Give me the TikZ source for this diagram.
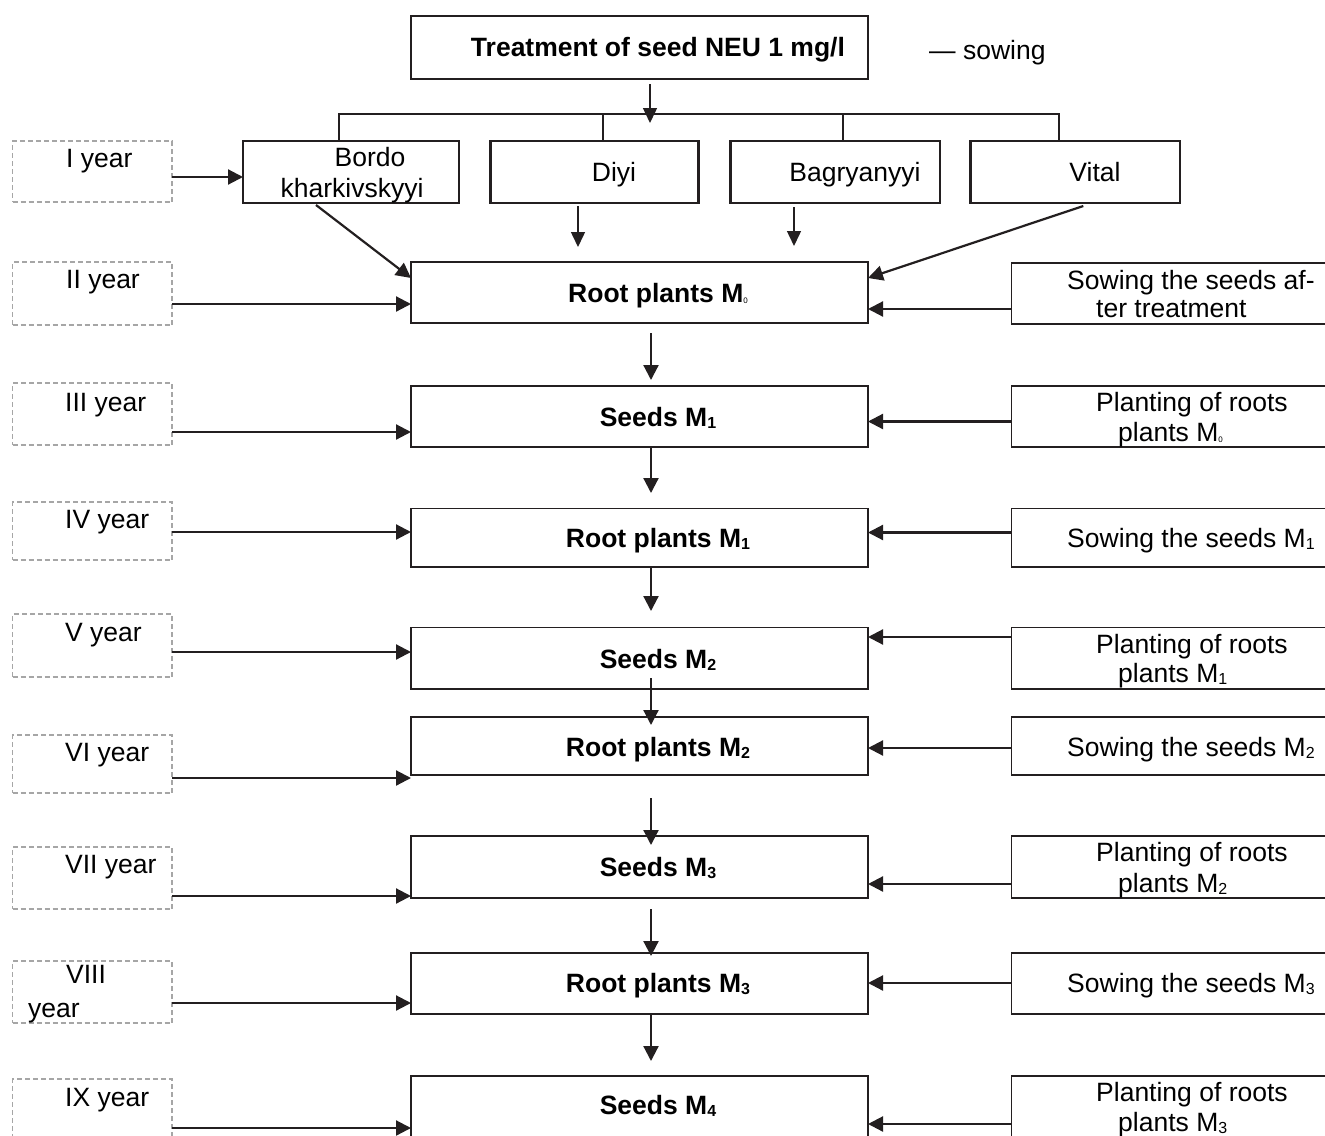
\documentclass[tikz,border=0pt]{standalone}
\usepackage{fontspec}
\setmainfont{Liberation Sans}
\usetikzlibrary{arrows.meta}
\definecolor{lc}{HTML}{231F20}
\definecolor{dg}{HTML}{A6A6A6}
\newcommand\sbs[1]{\raisebox{-1.5pt}{\fontsize{16}{16}\selectfont #1}}
\newcommand\tsb{\raisebox{-1pt}{\fontsize{8}{8}\selectfont\mdseries 0}}
\begin{document}
\begin{tikzpicture}[x=1pt,y=-1pt,
 box/.style={draw=lc,line width=1.8pt,rectangle,inner sep=0pt,outer sep=0pt},
 vbox/.style={box,line width=2.6pt},
 ybox/.style={draw=dg,line width=1.3pt,dash pattern=on 5pt off 3pt,rectangle,inner sep=0pt,outer sep=0pt},
 txt/.style={inner sep=0pt,text=black,font=\fontsize{26.5}{30}\selectfont,text height=22pt,text depth=3pt},
 btxt/.style={txt,font=\fontsize{26.5}{30}\selectfont\bfseries},
 arr/.style={draw=lc,line width=2.2pt,-{Triangle[length=15pt,width=15pt]}},
 tarr/.style={draw=lc,line width=1.5pt,-{Triangle[length=15pt,width=14pt]}},
 brk/.style={draw=lc,line width=2.6pt}]
\useasboundingbox (0,0) rectangle (1325,1135);
\clip (0,0) rectangle (1325,1135);

% top
\node[box,minimum width=457pt,minimum height=63pt] (top) at (639.5,47.5) {};
\node[btxt] (toptxt) at (658,47) {Treatment of seed NEU 1 mg/l};
\node[txt,anchor=west] (sow) at (929,50) {— sowing};

% varieties
\node[vbox,minimum width=216pt,minimum height=62pt] (bordo) at (351,172) {};
\node[vbox,minimum width=208pt,minimum height=62pt] (diyi) at (594.5,172) {};
\node[vbox,minimum width=209.5pt,minimum height=62pt] (bagr) at (835.25,172) {};
\node[vbox,minimum width=209.5pt,minimum height=62pt] (vital) at (1075.25,172) {};
\node[txt] (t-bordo1) at (370,157) {Bordo};
\node[txt] (t-bordo2) at (352,188) {kharkivskyyi};
\node[txt] (t-diyi) at (614,172) {Diyi};
\node[txt] (t-bagr) at (855,172) {Bagryanyyi};
\node[txt] (t-vital) at (1095,172) {Vital};

% bracket
\coordinate (bl) at (339,114);
\coordinate (bm1) at (603,114);
\coordinate (bm2) at (843,114);
\coordinate (brr) at (1059,114);
\draw[brk] (bordo.north -| bl) -- (bl) -- (brr) -- (vital.north -| brr);
\draw[brk] (bm1) -- (diyi.north -| bm1);
\draw[brk] (bm2) -- (bagr.north -| bm2);
\coordinate (bt) at (650,123);
\draw[tarr,shorten <=5pt] (top.south -| bt) -- (bt);

% year boxes
\node[ybox,minimum width=159.5pt,minimum height=61pt] (Y1) at (92.25,171.5) {};
\node[ybox,minimum width=159.5pt,minimum height=63pt] (Y2) at (92.25,293.5) {};
\node[ybox,minimum width=159.5pt,minimum height=62pt] (Y3) at (92.25,414) {};
\node[ybox,minimum width=159.5pt,minimum height=58pt] (Y4) at (92.25,531) {};
\node[ybox,minimum width=159.5pt,minimum height=63pt] (Y5) at (92.25,645.5) {};
\node[ybox,minimum width=159.5pt,minimum height=58pt] (Y6) at (92.25,764) {};
\node[ybox,minimum width=159.5pt,minimum height=62pt] (Y7) at (92.25,878) {};
\node[ybox,minimum width=159.5pt,minimum height=62pt] (Y8) at (92.25,992) {};
\node[ybox,minimum width=159.5pt,minimum height=66pt] (Y9) at (92.25,1112) {};
\node[txt,anchor=west] (ty1) at (66,158) {I year};
\node[txt,anchor=west] (ty2) at (66,279) {II year};
\node[txt,anchor=west] (ty3) at (65,402) {III year};
\node[txt,anchor=west] (ty4) at (65,519) {IV year};
\node[txt,anchor=west] (ty5) at (65,632) {V year};
\node[txt,anchor=west] (ty6) at (65,752) {VI year};
\node[txt,anchor=west] (ty7) at (65,864) {VII year};
\node[txt,anchor=west] (ty8a) at (66,974) {VIII};
\node[txt,anchor=west] (ty8b) at (28,1008) {year};
\node[txt,anchor=west] (ty9) at (65,1097) {IX year};

% central boxes
\node[box,minimum width=457pt,minimum height=61pt] (C0) at (639.5,292.5) {};
\node[box,minimum width=457pt,minimum height=61pt] (C1) at (639.5,416.5) {};
\node[box,minimum width=457pt,minimum height=58.5pt] (C2) at (639.5,537.75) {};
\node[box,minimum width=457pt,minimum height=61.5pt] (C3) at (639.5,658.25) {};
\node[box,minimum width=457pt,minimum height=58pt] (C4) at (639.5,746) {};
\node[box,minimum width=457pt,minimum height=62pt] (C5) at (639.5,867) {};
\node[box,minimum width=457pt,minimum height=61pt] (C6) at (639.5,983.5) {};
\node[box,minimum width=457pt,minimum height=69pt] (C7) at (639.5,1110.5) {};
\node[btxt] (tc0) at (658,293) {Root plants M\tsb};
\node[btxt] (tc1) at (658,417) {Seeds M\sbs{1}};
\node[btxt] (tc2) at (658,538) {Root plants M\sbs{1}};
\node[btxt] (tc3) at (658,659) {Seeds M\sbs{2}};
\node[btxt] (tc4) at (658,747) {Root plants M\sbs{2}};
\node[btxt] (tc5) at (658,867) {Seeds M\sbs{3}};
\node[btxt] (tc6) at (658,983) {Root plants M\sbs{3}};
\node[btxt] (tc7) at (658,1105) {Seeds M\sbs{4}};

% right boxes
\node[box,minimum width=323.5pt,minimum height=61pt] (R0) at (1173.25,293.5) {};
\node[box,minimum width=323.5pt,minimum height=61pt] (R1) at (1173.25,416.5) {};
\node[box,minimum width=323.5pt,minimum height=58.5pt] (R2) at (1173.25,537.75) {};
\node[box,minimum width=323.5pt,minimum height=61.5pt] (R3) at (1173.25,658.25) {};
\node[box,minimum width=323.5pt,minimum height=58pt] (R4) at (1173.25,746) {};
\node[box,minimum width=323.5pt,minimum height=62pt] (R5) at (1173.25,867) {};
\node[box,minimum width=323.5pt,minimum height=61pt] (R6) at (1173.25,983.5) {};
\node[box,minimum width=323.5pt,minimum height=69pt] (R7) at (1173.25,1110.5) {};
\node[txt,anchor=west] (tr0a) at (1067,280) {Sowing the seeds af-};
\node[txt,anchor=west] (tr0b) at (1096,308) {ter treatment};
\node[txt,anchor=west] (tr1a) at (1096,402) {Planting of roots};
\node[txt,anchor=west] (tr1b) at (1118,432) {plants M\tsb};
\node[txt,anchor=west] (tr2) at (1067,538) {Sowing the seeds M\sbs{1}};
\node[txt,anchor=west] (tr3a) at (1096,644) {Planting of roots};
\node[txt,anchor=west] (tr3b) at (1118,673) {plants M\sbs{1}};
\node[txt,anchor=west] (tr4) at (1067,747) {Sowing the seeds M\sbs{2}};
\node[txt,anchor=west] (tr5a) at (1096,852) {Planting of roots};
\node[txt,anchor=west] (tr5b) at (1118,883) {plants M\sbs{2}};
\node[txt,anchor=west] (tr6) at (1067,983) {Sowing the seeds M\sbs{3}};
\node[txt,anchor=west] (tr7a) at (1096,1092) {Planting of roots};
\node[txt,anchor=west] (tr7b) at (1118,1122) {plants M\sbs{3}};

% variety arrows
\draw[arr] ([xshift=-35pt,yshift=-2pt]bordo.south) -- (C0.west |- 0,278);
\draw[arr] ([xshift=8pt,yshift=-3pt]vital.south) -- (C0.east |- 0,278);
\coordinate (dt) at (578,247);
\coordinate (gt) at (794,246);
\draw[tarr,shorten <=3pt] (diyi.south -| dt) -- (dt);
\draw[tarr,shorten <=4pt] (bagr.south -| gt) -- (gt);

% year arrows
\draw[arr] (Y1.east |- 0,177) -- (bordo.west |- 0,177);
\draw[arr] (Y2.east |- 0,304) -- (C0.west |- 0,304);
\draw[arr] (Y3.east |- 0,432) -- (C1.west |- 0,432);
\draw[arr] (Y4.east |- 0,532) -- (C2.west |- 0,532);
\draw[arr] (Y5.east |- 0,652) -- (C3.west |- 0,652);
\draw[arr] (Y6.east |- 0,778) -- (C4.west |- 0,778);
\draw[arr] (Y7.east |- 0,896) -- (C5.west |- 0,896);
\draw[arr] (Y8.east |- 0,1003) -- (C6.west |- 0,1003);
\draw[arr] (Y9.east |- 0,1128) -- (C7.west |- 0,1128);

% right arrows
\draw[arr] (R0.west |- 0,309) -- (C0.east |- 0,309);
\draw[arr] (R1.west |- 0,421.5) -- (C1.east |- 0,421.5);
\draw[arr] (R2.west |- 0,532.5) -- (C2.east |- 0,532.5);
\draw[arr] (R3.west |- 0,637) -- (C3.east |- 0,637);
\draw[arr] (R4.west |- 0,748) -- (C4.east |- 0,748);
\draw[arr] (R5.west |- 0,884) -- (C5.east |- 0,884);
\draw[arr] (R6.west |- 0,983) -- (C6.east |- 0,983);
\draw[arr] (R7.west |- 0,1124) -- (C7.east |- 0,1124);

% vertical arrows
\coordinate (vx) at (651,0);
\draw[arr,shorten <=10pt,shorten >=6pt] (C0.south -| vx) -- (C1.north -| vx);
\draw[arr,shorten <=1pt,shorten >=15.5pt] (C1.south -| vx) -- (C2.north -| vx);
\draw[arr,shorten <=1pt,shorten >=16.5pt] (C2.south -| vx) -- (C3.north -| vx);
\draw[arr,shorten <=-11pt,shorten >=-8pt] (C3.south -| vx) -- (C4.north -| vx);
\draw[arr,shorten <=23pt,shorten >=-9pt] (C4.south -| vx) -- (C5.north -| vx);
\draw[arr,shorten <=11pt,shorten >=-3pt] (C5.south -| vx) -- (C6.north -| vx);
\draw[arr,shorten <=1pt,shorten >=15pt] (C6.south -| vx) -- (C7.north -| vx);
\end{tikzpicture}
\end{document}
